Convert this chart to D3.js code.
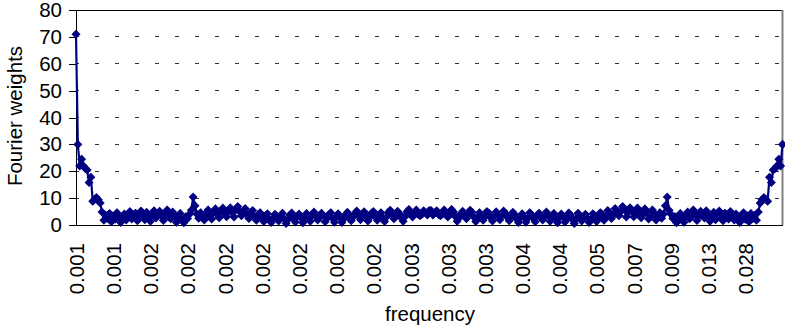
<!DOCTYPE html>
<html>
<head>
<meta charset="utf-8">
<script src="https://cdn.jsdelivr.net/npm/d3@7"></script>
<style>
  html, body { margin: 0; padding: 0; background: #fff; }
  svg { display: block; font-family: "Liberation Sans", Arial, sans-serif; }
</style>
</head>
<body>
<svg id="chart" width="785" height="328"></svg>
<script>
// Category-axis labels (one label every 20 categories)
const freqLabels = ["0.001", "0.001", "0.002", "0.002", "0.002", "0.002", "0.002", "0.002", "0.002",
  "0.003", "0.003", "0.003", "0.004", "0.004", "0.005", "0.007", "0.009", "0.013", "0.028"];
const labelStep = 20;

// Fourier weight for each frequency bin
const weights = [
  71, 30, 22, 24.5, 22, 21, 20.5, 15.8, 17.8, 8.8,
  9.6, 10.2, 9.4, 8.2, 4.8, 1.8, 3.6, 2.4, 4.3, 1.2,
  3.4, 2.1, 4.6, 3.0, 0.9, 2.7, 4.1, 1.9, 3.3, 5.0,
  2.2, 3.8, 4.4, 1.6, 3.1, 5.2, 3.6, 2.0, 4.7, 3.2,
  1.4, 3.9, 5.3, 2.6, 4.0, 5.1, 3.3, 1.7, 4.2, 5.6,
  3.0, 2.3, 4.8, 3.5, 1.0, 2.9, 4.3, 2.0, 0.8, 3.1,
  2.4, 4.0, 5.5, 10.4, 7.2, 4.1, 2.5, 4.6, 3.2, 1.9,
  4.4, 5.6, 3.1, 2.2, 4.9, 6.0, 3.8, 2.7, 5.2, 6.3,
  4.0, 3.1, 5.5, 6.4, 4.6, 3.0, 5.8, 6.9, 4.9, 3.4,
  5.2, 6.1, 3.6, 2.4, 4.7, 5.4, 3.0, 1.8, 3.9, 4.6,
  2.8, 1.3, 3.5, 4.2, 2.1, 0.9, 2.6, 4.0, 3.3, 1.5,
  2.9, 4.4, 2.3, 0.6, 2.0, 3.7, 4.5, 2.4, 1.1, 3.2,
  4.1, 2.7, 0.8, 2.5, 4.3, 3.0, 1.4, 3.6, 4.8, 3.1,
  1.9, 2.8, 4.4, 3.5, 1.2, 2.4, 3.9, 4.6, 2.5, 1.0,
  3.0, 4.2, 2.6, 0.9, 2.2, 3.8, 4.7, 3.1, 1.6, 2.9,
  4.3, 5.2, 3.4, 2.0, 3.7, 4.9, 3.3, 1.5, 2.8, 4.5,
  5.0, 3.2, 1.8, 3.4, 4.6, 2.7, 1.3, 3.0, 4.7, 5.5,
  3.9, 2.3, 3.6, 5.1, 4.2, 2.6, 1.4, 3.2, 4.9, 5.8,
  4.4, 3.0, 4.1, 5.6, 4.0, 3.4, 3.9, 5.3, 4.6, 3.7,
  5.4,
  5.4,
  3.7, 4.6, 5.3, 3.9, 3.4, 4.0, 5.6, 4.1, 3.0, 4.4,
  5.8, 4.9, 3.2, 1.4, 2.6, 4.2, 5.1, 3.6, 2.3, 3.9,
  5.5, 4.7, 3.0, 1.3, 2.7, 4.6, 3.4, 1.8, 3.2, 5.0,
  4.5, 2.8, 1.5, 3.3, 4.9, 3.7, 2.0, 3.4, 5.2, 4.3,
  2.9, 1.6, 3.1, 4.7, 3.8, 2.2, 0.9, 2.6, 4.2, 3.0,
  1.0, 2.5, 4.6, 3.9, 2.4, 1.2, 3.5, 4.4, 2.8, 1.9,
  3.1, 4.8, 3.6, 1.4, 3.0, 4.3, 2.5, 0.8, 2.7, 4.1,
  3.2, 1.1, 2.4, 4.5, 3.7, 2.0, 0.6, 2.3, 4.4, 2.9,
  1.5, 3.3, 4.0, 2.6, 0.9, 2.1, 4.2, 3.5, 1.3, 2.8,
  4.6, 3.9, 1.8, 3.0, 5.4, 4.7, 2.4, 3.6, 6.1, 5.2,
  3.4, 4.9, 6.9, 5.8, 3.0, 4.6, 6.4, 5.5, 3.1, 4.0,
  6.3, 5.2, 2.7, 3.8, 6.0, 4.9, 2.2, 3.1, 5.6, 4.4,
  1.9, 3.2, 4.6, 2.5, 4.1, 7.2, 10.4, 5.5, 4.0, 2.4,
  3.1, 0.8, 2.0, 4.3, 2.9, 1.0, 3.5, 4.8, 2.3, 3.0,
  5.6, 4.2, 1.7, 3.3, 5.1, 4.0, 2.6, 5.3, 3.9, 1.4,
  3.2, 4.7, 2.0, 3.6, 5.2, 3.1, 1.6, 4.4, 3.8, 2.2,
  5.0, 3.3, 1.9, 4.1, 2.7, 0.9, 3.0, 4.6, 2.1, 3.4,
  1.2, 4.3, 2.4, 3.6, 1.8, 4.8, 8.2, 9.4, 10.2, 9.6,
  8.8, 17.8, 15.8, 20.5, 21, 22, 24.5, 22, 30
];

const yTicks = [0, 10, 20, 30, 40, 50, 60, 70, 80];

const plot = { left: 76, right: 782.5, top: 10, bottom: 225 };
const navy = "#000080";
const fontSize = 20.5;

const svg = d3.select("#chart");
svg.append("rect").attr("width", 785).attr("height", 328).attr("fill", "#fff");

const idx = weights.map((_, i) => i);
const x = d3.scalePoint().domain(idx).range([plot.left, plot.right]);
const y = d3.scaleLinear().domain([0, 80]).range([plot.bottom, plot.top]);

// Dashed horizontal gridlines
svg.append("g")
  .selectAll("line")
  .data(yTicks.filter(t => t > 0 && t < 80))
  .join("line")
  .attr("x1", plot.left).attr("x2", plot.right)
  .attr("y1", d => y(d)).attr("y2", d => y(d))
  .attr("stroke", "#333")
  .attr("stroke-width", 1)
  .attr("stroke-dasharray", "4,16")
  .attr("stroke-dashoffset", 1)
  .attr("shape-rendering", "crispEdges");

// Plot-area frame: top and right edges
svg.append("line")
  .attr("x1", plot.left).attr("x2", plot.right)
  .attr("y1", plot.top).attr("y2", plot.top)
  .attr("stroke", "#000").attr("stroke-width", 1)
  .attr("shape-rendering", "crispEdges");
svg.append("line")
  .attr("x1", plot.right).attr("x2", plot.right)
  .attr("y1", plot.top).attr("y2", plot.bottom)
  .attr("stroke", "#808080").attr("stroke-width", 2);

// Y axis
const yAxis = svg.append("g")
  .attr("transform", `translate(${plot.left},0)`)
  .call(d3.axisLeft(y).tickValues(yTicks).tickSize(7).tickPadding(7).tickFormat(d3.format("d")));
yAxis.select(".domain").attr("stroke", "#000").attr("shape-rendering", "crispEdges");
yAxis.selectAll(".tick line").attr("stroke", "#000").attr("shape-rendering", "crispEdges");
yAxis.selectAll("text")
  .attr("font-family", "Liberation Sans, Arial, sans-serif")
  .attr("font-size", fontSize)
  .attr("fill", "#000");

// X axis with rotated labels every 20 categories
const labelIdx = idx.filter(i => i % labelStep === 0 && i / labelStep < freqLabels.length);
const xAxis = svg.append("g")
  .attr("transform", `translate(0,${plot.bottom})`)
  .call(d3.axisBottom(x).tickValues(labelIdx).tickSize(0).tickSizeOuter(0)
    .tickFormat(i => freqLabels[i / labelStep]));
xAxis.select(".domain").attr("stroke", "#000").attr("shape-rendering", "crispEdges");
xAxis.selectAll("text")
  .attr("font-family", "Liberation Sans, Arial, sans-serif")
  .attr("font-size", fontSize)
  .attr("fill", "#000")
  .attr("text-anchor", "end")
  .attr("transform", "rotate(-90)")
  .attr("x", -18)
  .attr("y", 0)
  .attr("dy", "0.36em");

// Series line and diamond markers
const line = d3.line().x((d, i) => x(i)).y(d => y(d));
svg.append("path")
  .datum(weights)
  .attr("d", line)
  .attr("fill", "none")
  .attr("stroke", navy)
  .attr("stroke-width", 2.2)
  .attr("stroke-linejoin", "round");

const diamond = d3.symbol().type(d3.symbolDiamond2).size(34);
svg.append("g")
  .selectAll("path")
  .data(weights)
  .join("path")
  .attr("transform", (d, i) => `translate(${x(i)},${y(d)})`)
  .attr("d", diamond)
  .attr("fill", navy)
  .attr("stroke", navy)
  .attr("stroke-width", 1.2);

// Axis titles
svg.append("text")
  .attr("x", 430).attr("y", 321)
  .attr("text-anchor", "middle")
  .attr("font-size", fontSize)
  .attr("fill", "#000")
  .text("frequency");

svg.append("text")
  .attr("transform", "translate(22,116) rotate(-90)")
  .attr("text-anchor", "middle")
  .attr("font-size", fontSize)
  .attr("fill", "#000")
  .text("Fourier weights");
</script>
</body>
</html>
